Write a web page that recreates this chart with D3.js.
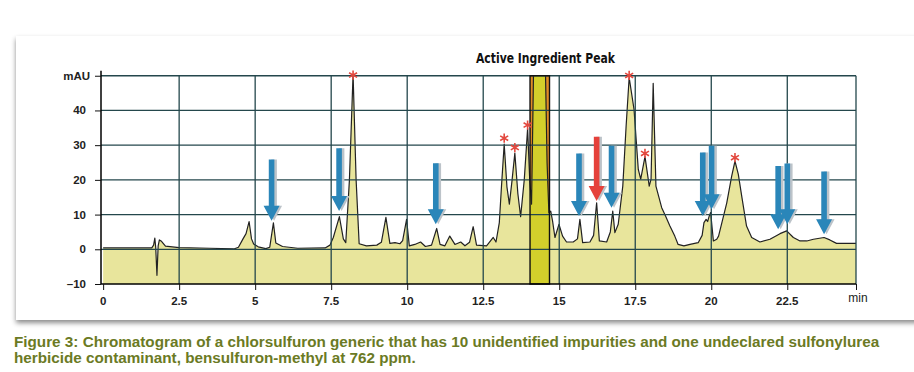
<!DOCTYPE html>
<html>
<head>
<meta charset="utf-8">
<script src="https://cdn.jsdelivr.net/npm/d3@7"></script>
<style>
  body { margin: 0; background: #fff; }
  svg { display: block; }
</style>
</head>
<body>
<svg id="chart" width="914" height="372"></svg>
<script>
// chromatogram trace, time (min) and signal (mAU)
var traceTime = [0, 1.60, 1.66, 1.70, 1.73, 1.77, 1.81, 1.85, 1.92, 2.05, 2.5, 3.5, 4.30, 4.45, 4.60, 4.70, 4.80, 4.88, 4.95, 5.10,
  5.35, 5.48, 5.60, 5.68, 5.90, 6.4, 7.3, 7.46, 7.57, 7.77, 7.90, 7.98, 8.10, 8.22, 8.32, 8.42, 8.66, 9.00, 9.15, 9.30,
  9.43, 9.60, 9.76, 9.85, 9.98, 10.07, 10.25, 10.44, 10.60, 10.80, 10.97, 11.08, 11.24, 11.40, 11.57, 11.76, 11.90, 12.05, 12.17, 12.28,
  12.61, 12.83, 12.92, 13.03, 13.10, 13.19, 13.28, 13.36, 13.45, 13.54, 13.64, 13.73, 13.85, 13.96, 14.03, 14.09, 14.17, 14.53, 14.60, 14.66,
  14.72, 14.78, 14.86, 14.99, 15.11, 15.24, 15.46, 15.60, 15.68, 15.77, 16.01, 16.13, 16.23, 16.32, 16.56, 16.68, 16.76, 16.83, 16.94, 17.09,
  17.20, 17.30, 17.46, 17.60, 17.68, 17.82, 17.96, 18.02, 18.09, 18.18, 18.37, 18.50, 18.64, 18.80, 18.91, 19.10, 19.30, 19.57, 19.70, 19.76,
  19.83, 19.88, 19.93, 19.98, 20.07, 20.18, 20.24, 20.51, 20.67, 20.78, 20.89, 21.00, 21.16, 21.33, 21.60, 21.93, 22.26, 22.48, 22.70, 22.92,
  23.14, 23.36, 23.71, 23.90, 24.12, 24.76];
var traceMAU = [0.4, 0.4, 1.2, 3.2, 0.5, -7.5, 1.0, 2.7, 2.3, 0.9, 0.5, 0.3, 0.1, 0.6, 3.0, 4.5, 8.0, 3.0, 1.5, 0.7,
  0.2, 0.6, 7.6, 1.8, 0.8, 0.3, 0.4, 1.2, 3.4, 9.4, 3.0, 1.9, 20, 50.5, 20, 1.6, 1.0, 1.2, 2.0, 9.2,
  1.7, 1.9, 1.6, 2.5, 8.6, 1.0, 1.4, 2.1, 0.8, 1.2, 6.0, 1.4, 1.0, 3.8, 1.4, 2.1, 1.0, 2.0, 6.5, 1.2,
  1.0, 3.4, 2.1, 7.7, 18, 30.3, 18, 13.0, 20, 27.7, 16, 9.4, 20, 34.8, 20, 13.0, 60, 60, 25, 10.5,
  11, 8.2, 3.4, 7.2, 3.8, 2.1, 2.1, 3.0, 8.6, 1.9, 2.1, 4.0, 13.4, 2.4, 2.1, 5.0, 11.0, 4.8, 7.2, 18.2,
  35.5, 49.5, 40.3, 23, 20.2, 26.7, 18.2, 20.2, 47.8, 18.2, 12.0, 9.5, 6.7, 3.8, 1.4, 1.0, 1.4, 1.9, 4.0, 7.7,
  8.6, 8.0, 9.5, 10.6, 2.4, 2.9, 3.8, 13.4, 21, 25.4, 21.6, 15.4, 6.7, 3.4, 2.1, 2.9, 4.5, 5.3, 3.4, 2.4,
  2.4, 2.9, 3.4, 2.7, 1.7, 1.7];

// asterisk marked peaks
var starTime = [8.22, 13.19, 13.54, 13.96, 17.30, 17.82, 20.78];
var starMAU = [50.2, 32.0, 29.3, 35.8, 50.1, 27.6, 26.4];

// arrows: time, top and tip (mAU), red = undeclared contaminant
var arrowTime = [5.54, 7.76, 10.94, 15.65, 16.23, 16.72, 19.72, 20.01, 22.20, 22.50, 23.71];
var arrowTop = [25.9, 29.1, 24.8, 27.6, 32.4, 29.8, 27.9, 29.8, 24.0, 24.7, 22.4];
var arrowTip = [8.2, 11.0, 7.2, 9.6, 13.9, 12.0, 9.6, 11.5, 5.8, 7.2, 4.3];
var arrowRed = [false, false, false, false, true, false, false, false, false, false, false];

// active ingredient window (min)
var activeStart = 14.04;
var activeEnd = 14.68;

var xTicks = [0, 2.5, 5, 7.5, 10, 12.5, 15, 17.5, 20, 22.5];
var xTickLabels = ['0', '2.5', '5', '7.5', '10', '12.5', '15', '17.5', '20', '22.5'];
var yTicks = [-10, 0, 10, 20, 30, 40, 50];
var yTickLabels = ['\u201310', '0', '10', '20', '30', '40', 'mAU'];

var titleText = 'Active Ingredient Peak';
var captionLines = ['Figure 3: Chromatogram of a chlorsulfuron generic that has 10 unidentified impurities and one undeclared sulfonylurea',
  'herbicide contaminant, bensulfuron-methyl at 762 ppm.'];

var svg = d3.select('#chart');
var x = d3.scaleLinear().domain([-0.07, 24.76]).range([101, 856]);
var y = d3.scaleLinear().domain([-10, 50.5]).range([284, 74]);
var x0 = x.range()[0], x1 = x.range()[1], yTop = y(50), yBot = y(-10);

var gridColor = '#24474c';

// card with shadow
var defs = svg.append('defs');
var f = defs.append('filter').attr('id', 'shadow').attr('x', '-5%').attr('y', '-5%').attr('width', '110%').attr('height', '115%');
f.append('feDropShadow').attr('dx', 0).attr('dy', 3).attr('stdDeviation', 2.5).attr('flood-color', '#000').attr('flood-opacity', 0.45);
svg.append('rect').attr('x', 16).attr('y', 36).attr('width', 930).attr('height', 284)
  .attr('fill', '#fff').attr('filter', 'url(#shadow)');

defs.append('clipPath').attr('id', 'plotclip').append('rect')
  .attr('x', x0).attr('y', yTop).attr('width', x1 - x0).attr('height', yBot - yTop);
defs.append('clipPath').attr('id', 'boxclip').append('rect')
  .attr('x', x(activeStart)).attr('y', yTop).attr('width', x(activeEnd) - x(activeStart)).attr('height', yBot - yTop);

var trace = d3.zip(traceTime, traceMAU);

var area = d3.area()
  .x(function(d) { return x(d[0]); })
  .y0(yBot)
  .y1(function(d) { return y(d[1]); });
var line = d3.line()
  .x(function(d) { return x(d[0]); })
  .y(function(d) { return y(d[1]); });

var plot = svg.append('g');

// filled trace
plot.append('path').attr('d', area(trace)).attr('fill', '#e8e59c').attr('clip-path', 'url(#plotclip)');

// active ingredient box: orange behind, darker fill under the curve
plot.append('rect').attr('x', x(activeStart)).attr('y', yTop)
  .attr('width', x(activeEnd) - x(activeStart)).attr('height', yBot - yTop).attr('fill', '#e08b26');
plot.append('path').attr('d', area(trace)).attr('fill', '#d3cf2b').attr('clip-path', 'url(#boxclip)');

// grid
var grid = svg.append('g').attr('stroke', gridColor).attr('stroke-width', 1.3);
grid.selectAll('.hgrid').data(yTicks.filter(function(t) { return t > -10; })).enter().append('line')
  .attr('x1', x0).attr('x2', x1)
  .attr('y1', function(d) { return y(d); }).attr('y2', function(d) { return y(d); });
grid.selectAll('.vgrid').data(xTicks.filter(function(t) { return t > 0; })).enter().append('line')
  .attr('x1', function(d) { return x(d); }).attr('x2', function(d) { return x(d); })
  .attr('y1', yTop).attr('y2', yBot);
grid.append('line').attr('x1', x1).attr('x2', x1).attr('y1', yTop).attr('y2', yBot);

// trace line
plot.append('path').attr('d', line(trace)).attr('fill', 'none')
  .attr('stroke', '#222').attr('stroke-width', 1.2).attr('stroke-linejoin', 'round')
  .attr('clip-path', 'url(#plotclip)');

svg.append('rect').attr('x', x(activeStart)).attr('y', yTop)
  .attr('width', x(activeEnd) - x(activeStart)).attr('height', yBot - yTop)
  .attr('fill', 'none').attr('stroke', '#111').attr('stroke-width', 1.4);

// axes
var xAxis = svg.append('g').attr('transform', 'translate(0,' + yBot + ')')
  .call(d3.axisBottom(x).tickValues(xTicks.concat([24.76])).tickSize(6).tickFormat(''));
var yAxis = svg.append('g').attr('transform', 'translate(' + x0 + ',0)')
  .call(d3.axisLeft(y).tickValues(yTicks).tickSize(6).tickFormat(''));
xAxis.select('.domain').attr('d', 'M' + x0 + ',0H' + x1).attr('stroke-width', 1.5);
yAxis.select('.domain').attr('d', 'M0,' + (yTop - 5) + 'V' + yBot).attr('stroke-width', 1.5);
svg.selectAll('.tick line').attr('stroke', '#111');

var labelFont = 'Liberation Sans, Arial, sans-serif';
svg.selectAll('.xlab').data(xTicks).enter().append('text')
  .attr('x', function(d) { return x(d); }).attr('y', 305)
  .attr('text-anchor', 'middle').attr('font-family', labelFont).attr('font-size', 11.5)
  .attr('font-weight', 'bold').attr('fill', '#222')
  .text(function(d, i) { return xTickLabels[i]; });
svg.append('text').attr('x', 858).attr('y', 302).attr('text-anchor', 'middle')
  .attr('font-family', labelFont).attr('font-size', 12).attr('fill', '#222').text('min');

svg.selectAll('.ylab').data(yTicks).enter().append('text')
  .attr('x', function(d) { return d === 50 ? 90 : 86; })
  .attr('y', function(d) { return y(d) + 4; })
  .attr('text-anchor', 'end').attr('font-family', labelFont).attr('font-size', 11.5)
  .attr('font-weight', 'bold').attr('fill', '#222')
  .text(function(d, i) { return yTickLabels[i]; });

// arrows
var arrowData = d3.range(arrowTime.length).map(function(i) {
  return {t: arrowTime[i], top: arrowTop[i], tip: arrowTip[i], red: arrowRed[i]};
});
function arrowPath(d, dx) {
  var cx = x(d.t) + dx, ty = y(d.top), py = y(d.tip), hh = 15, hw = 8, sw = 2.8;
  return 'M' + (cx - sw) + ',' + ty + 'H' + (cx + sw) + 'V' + (py - hh) + 'H' + (cx + hw) +
    'L' + cx + ',' + py + 'L' + (cx - hw) + ',' + (py - hh) + 'H' + (cx - sw) + 'Z';
}
var arrows = svg.append('g');
arrows.selectAll('.ashadow').data(arrowData).enter().append('path')
  .attr('d', function(d) { return arrowPath(d, 2.5); }).attr('fill', '#bcc3c9');
arrows.selectAll('.arrow').data(arrowData).enter().append('path')
  .attr('d', function(d) { return arrowPath(d, 0); })
  .attr('fill', function(d) { return d.red ? '#e5413b' : '#2a86b9'; });

// asterisks
svg.append('g').selectAll('path').data(d3.zip(starTime, starMAU)).enter().append('path')
  .attr('transform', function(d) { return 'translate(' + x(d[0]) + ',' + y(d[1]) + ')'; })
  .attr('d', d3.symbol(d3.symbolAsterisk, 60))
  .attr('fill', 'none').attr('stroke', '#e3493f').attr('stroke-width', 1.6);

// title above the box
svg.append('text').attr('x', 545.5).attr('y', 63).attr('text-anchor', 'middle')
  .attr('font-family', 'Liberation Sans Narrow, DejaVu Sans Condensed, Liberation Sans, sans-serif')
  .attr('font-size', 14.5).attr('font-weight', 'bold').attr('fill', '#111')
  .attr('textLength', 139).attr('lengthAdjust', 'spacingAndGlyphs')
  .text(titleText);

// caption, sized so line 1 fills the width
var cap = svg.append('g').attr('font-family', labelFont).attr('font-weight', 'bold').attr('fill', '#6b7a24');
var capText = cap.selectAll('text').data(captionLines).enter().append('text')
  .attr('x', 14).attr('y', function(d, i) { return 347 + i * 16; })
  .attr('font-size', 14).text(function(d) { return d; });
var len = capText.node().getComputedTextLength();
capText.attr('font-size', 14 * 866 / len);
</script>
</body>
</html>
